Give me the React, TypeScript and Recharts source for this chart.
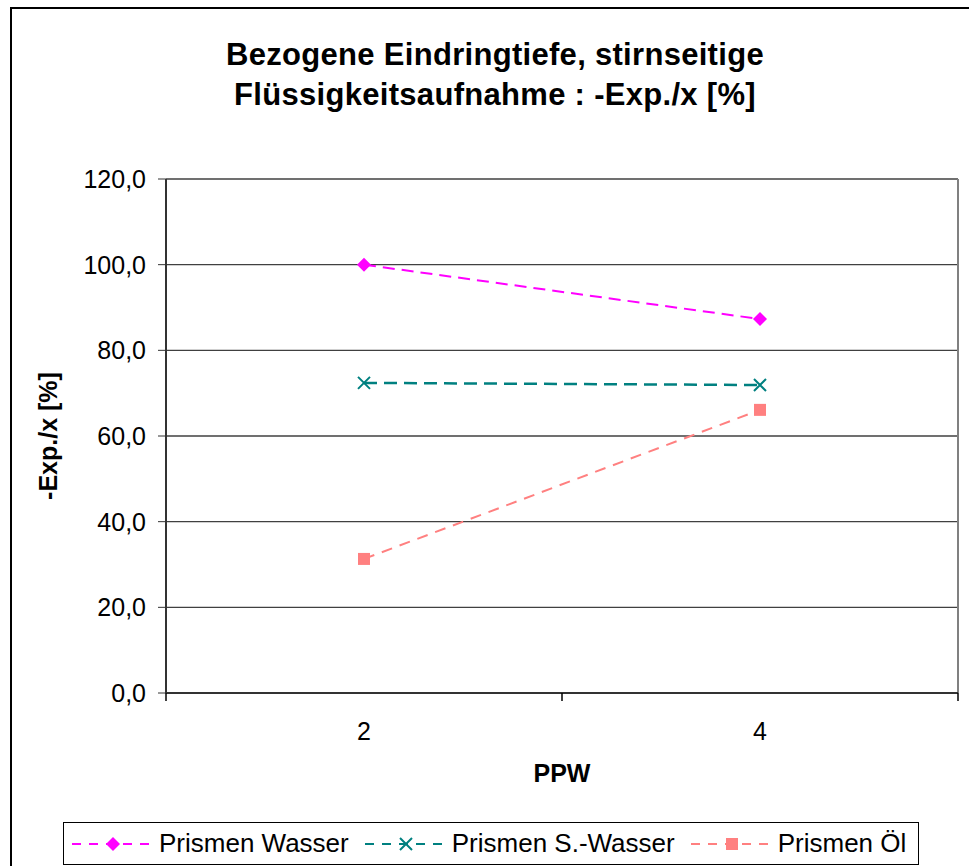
import { LineChart, Line, XAxis, YAxis, CartesianGrid, ReferenceLine } from 'recharts'

const ppw = [2, 4]
const wasser = [100.0, 87.3]
const sWasser = [72.4, 71.9]
const oel = [31.3, 66.1]
const yTicks = [0, 20, 40, 60, 80, 100, 120]
const xTicks = [1, 2, 3, 4, 5]

const data = ppw.map((p, i) => ({ ppw: p, wasser: wasser[i], sWasser: sWasser[i], oel: oel[i] }))

const font = 'Arial, "Liberation Sans", sans-serif'

const Diamond = ({ cx, cy, fill }: any) => (
  <path d={`M${cx},${cy - 7} L${cx + 7},${cy} L${cx},${cy + 7} L${cx - 7},${cy} Z`} fill={fill} />
)
const Cross = ({ cx, cy, stroke }: any) => (
  <path d={`M${cx - 6},${cy - 6} L${cx + 6},${cy + 6} M${cx + 6},${cy - 6} L${cx - 6},${cy + 6}`} stroke={stroke} strokeWidth={2} />
)
const Square = ({ cx, cy, fill }: any) => (
  <rect x={cx - 6} y={cy - 6} width={12} height={12} fill={fill} />
)

const XTick = ({ x, y, payload }: any) => {
  if (payload.value % 2 === 1) {
    return <line x1={x} x2={x} y1={y - 8} y2={y} stroke="#000" strokeWidth={1.5} />
  }
  return (
    <text x={x} y={y + 39} textAnchor="middle" fontSize={25} fontFamily={font} fill="#000">
      {payload.value}
    </text>
  )
}

// y axis title, centred on the plot height
const YLabel = ({ viewBox }: any) => {
  const cy = viewBox.y + viewBox.height / 2
  return (
    <text
      transform={`translate(48, ${cy}) rotate(-90)`}
      textAnchor="middle"
      dominantBaseline="central"
      fontSize={25}
      fontWeight="bold"
      fontFamily={font}
      fill="#000"
    >
      -Exp./x [%]
    </text>
  )
}

const series = [
  { name: 'Prismen Wasser', color: '#FF00FF', dash: '12 7', kind: 'diamond' },
  { name: 'Prismen S.-Wasser', color: '#008080', dash: '13 7', kind: 'cross' },
  { name: 'Prismen Öl', color: '#FF8080', dash: '11 8', kind: 'square' },
]

const LegendBox = () => (
  <div
    style={{
      position: 'absolute',
      left: 63,
      top: 822,
      width: 856,
      display: 'flex',
      alignItems: 'center',
      border: '1.5px solid #000',
      height: 43,
      boxSizing: 'border-box',
      padding: '0 0 0 6px',
      fontFamily: font,
      fontSize: 26,
      background: '#fff',
      whiteSpace: 'nowrap',
    }}
  >
    {series.map((s) => (
      <div key={s.name} style={{ display: 'flex', alignItems: 'center', marginRight: 14, flexShrink: 0 }}>
        <svg width={86} height={20}>
          <line x1={2} x2={84} y1={10} y2={10} stroke={s.color} strokeWidth={2} strokeDasharray="9 8" />
          {s.kind === 'diamond' && <Diamond cx={43} cy={10} fill={s.color} />}
          {s.kind === 'cross' && <Cross cx={43} cy={10} stroke={s.color} />}
          {s.kind === 'square' && <Square cx={43} cy={10} fill={s.color} />}
        </svg>
        <span style={{ marginLeft: 3 }}>{s.name}</span>
      </div>
    ))}
  </div>
)

export default function App() {
  return (
    <div style={{ position: 'fixed', inset: 0, overflow: 'hidden', background: '#fff' }}>
      <div
        style={{
          position: 'absolute',
          left: 10,
          top: 7,
          width: 1100,
          height: 1000,
          borderLeft: '2px solid #000',
          borderTop: '2px solid #000',
        }}
      />
      <div
        style={{
          position: 'absolute',
          left: 0,
          top: 35,
          width: 990,
          textAlign: 'center',
          fontFamily: font,
          fontWeight: 'bold',
          fontSize: 31,
          letterSpacing: 0.3,
          lineHeight: '40px',
        }}
      >
        Bezogene Eindringtiefe, stirnseitige
        <br />
        Flüssigkeitsaufnahme : -Exp./x [%]
      </div>
      <div style={{ position: 'absolute', left: 0, top: 0 }}>
        <LineChart width={969} height={866} data={data} margin={{ top: 179, right: 11, left: 0, bottom: 73 }}>
          <CartesianGrid vertical={false} stroke="#404040" strokeWidth={1.3} />
          <ReferenceLine x={5} stroke="#808080" strokeWidth={2} />
          <XAxis
            dataKey="ppw"
            type="number"
            domain={[1, 5]}
            ticks={xTicks}
            interval={0}
            tickLine={false}
            axisLine={{ stroke: '#333', strokeWidth: 2 }}
            tick={<XTick />}
            height={100}
            label={{ value: 'PPW', position: 'insideBottom', offset: 11, fontSize: 25, fontWeight: 'bold', fontFamily: font, fill: '#000' }}
          />
          <YAxis
            width={166}
            domain={[0, 120]}
            ticks={yTicks}
            interval={0}
            tickSize={8}
            tickMargin={12}
            tickFormatter={(v: number) => v.toFixed(1).replace('.', ',')}
            tick={{ fontSize: 25, fontFamily: font, fill: '#000' }}
            tickLine={{ stroke: '#333' }}
            axisLine={{ stroke: '#333', strokeWidth: 2 }}
            label={<YLabel />}
          />
          <Line
            dataKey="wasser"
            name={series[0].name}
            stroke={series[0].color}
            strokeWidth={2}
            strokeDasharray={series[0].dash}
            dot={<Diamond fill={series[0].color} />}
            isAnimationActive={false}
          />
          <Line
            dataKey="sWasser"
            name={series[1].name}
            stroke={series[1].color}
            strokeWidth={2.5}
            strokeDasharray={series[1].dash}
            dot={<Cross stroke={series[1].color} />}
            isAnimationActive={false}
          />
          <Line
            dataKey="oel"
            name={series[2].name}
            stroke={series[2].color}
            strokeWidth={2}
            strokeDasharray={series[2].dash}
            dot={<Square fill={series[2].color} />}
            isAnimationActive={false}
          />
        </LineChart>
      </div>
      <LegendBox />
    </div>
  )
}
